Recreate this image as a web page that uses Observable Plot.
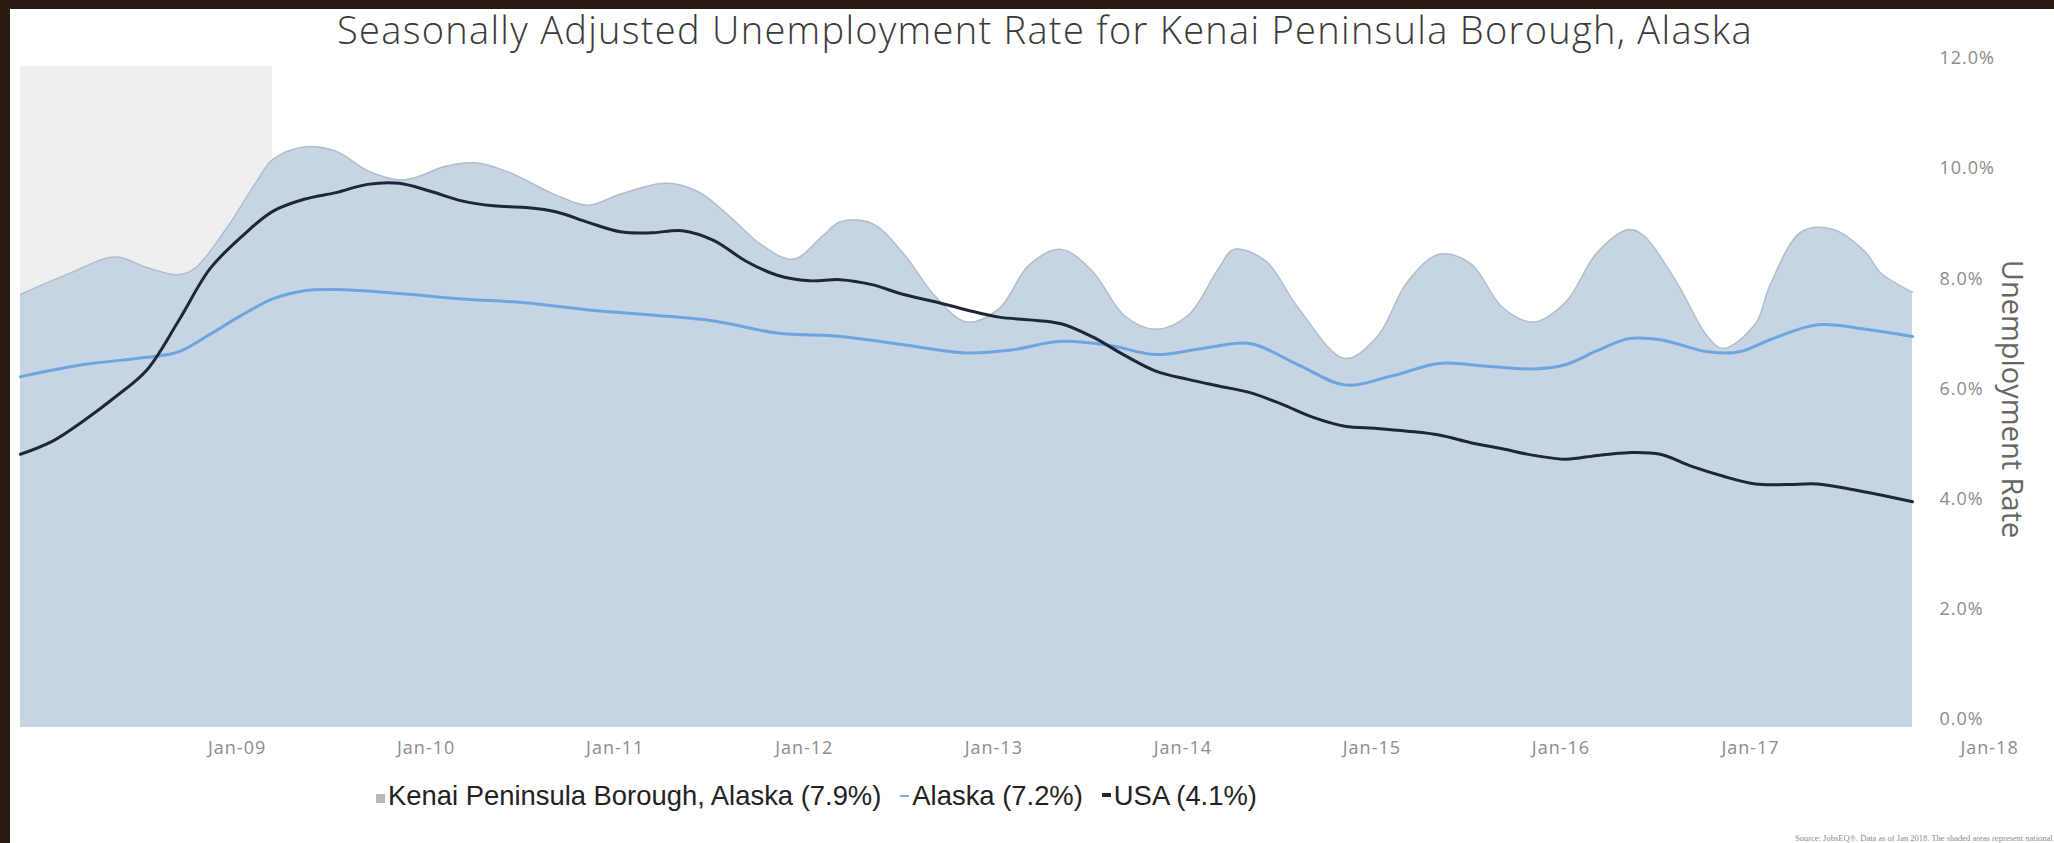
<!DOCTYPE html>
<html>
<head>
<meta charset="utf-8">
<script src="https://cdn.jsdelivr.net/npm/d3@7"></script>
<script src="https://cdn.jsdelivr.net/npm/@observablehq/plot@0.6"></script>
<style>
  html, body { margin: 0; padding: 0; width: 2054px; height: 843px; overflow: hidden; background: #2a1c15; }
  #panel { position: absolute; left: 10px; top: 9px; width: 2044px; height: 834px; background: #ffffff; }
  #title { position: absolute; left: 1045px; top: 3px; transform: translateX(-50%); white-space: nowrap;
           font-family: "Open Sans", sans-serif; font-weight: 300; font-size: 38px; letter-spacing: 1.3px; color: #3a3a3a; }
  #chart { position: absolute; left: 0; top: 50px; }
  #legend { position: absolute; left: 376px; top: 780px; white-space: nowrap;
            font-family: "Liberation Sans", Arial, sans-serif; font-size: 27.4px; color: #222; }
  #legend .sq { display: inline-block; width: 9px; height: 9px; background: #b9b9b9; margin-right: 3px; vertical-align: 2px; }
  #legend .dash { display: inline-block; width: 9px; vertical-align: 8px; margin: 0 3px 0 19px; }
  #source { position: absolute; left: 1795px; top: 833px; white-space: nowrap;
            font-family: "Liberation Serif", serif; font-size: 8.5px; color: #8a8a8a; }
  g[aria-label="y-axis tick label"] text, g[aria-label="x-axis tick label"] text { letter-spacing: 1px; }
</style>
</head>
<body>
<div id="panel"></div>
<div id="title">Seasonally Adjusted Unemployment Rate for Kenai Peninsula Borough, Alaska</div>
<div id="chart"></div>
<div id="legend"><span class="sq"></span>Kenai Peninsula Borough, Alaska (7.9%)<span class="dash" style="height:2px;background:#7fb1e3"></span>Alaska (7.2%)<span class="dash" style="height:4px;background:#1e2735"></span>USA (4.1%)</div>
<div id="source">Source: JobsEQ®. Data as of Jan 2018. The shaded areas represent national recessions.</div>
<script>
// ---- data (unemployment rate, %) ----
const kenaiDates = ["2007-12","2008-03","2008-06","2008-08","2008-10","2008-11","2009-01","2009-03","2009-04","2009-06","2009-08","2009-10","2009-12","2010-01","2010-03","2010-05","2010-07","2010-10","2010-12","2011-02","2011-05","2011-07","2011-09","2011-11","2012-01","2012-03","2012-04","2012-06","2012-08","2012-10","2012-12","2013-02","2013-04","2013-06","2013-08","2013-10","2013-12","2014-02","2014-04","2014-05","2014-07","2014-09","2014-12","2015-02","2015-04","2015-06","2015-08","2015-10","2015-12","2016-02","2016-04","2016-06","2016-07","2016-09","2016-11","2016-12","2017-02","2017-03","2017-05","2017-07","2017-09","2017-10","2017-12"];
const kenaiRates = [7.86,8.23,8.54,8.35,8.22,8.33,9.05,9.91,10.31,10.54,10.46,10.11,9.94,9.98,10.19,10.25,10.08,9.66,9.48,9.68,9.88,9.73,9.27,8.76,8.50,8.95,9.18,9.15,8.60,7.83,7.36,7.60,8.40,8.68,8.28,7.48,7.23,7.48,8.33,8.68,8.47,7.63,6.70,7.09,8.09,8.59,8.42,7.63,7.36,7.73,8.62,9.04,8.92,8.09,7.09,6.88,7.33,8.03,9.00,9.04,8.63,8.25,7.90];

const alaskaDates = ["2007-12","2008-04","2008-08","2008-10","2008-12","2009-02","2009-04","2009-06","2009-08","2009-12","2010-04","2010-08","2010-12","2011-04","2011-08","2011-12","2012-04","2012-08","2012-12","2013-03","2013-06","2013-09","2013-12","2014-03","2014-06","2014-09","2014-12","2015-03","2015-06","2015-09","2015-12","2016-02","2016-04","2016-06","2016-08","2016-11","2017-01","2017-03","2017-06","2017-09","2017-12"];
const alaskaRates = [6.37,6.59,6.72,6.82,7.14,7.49,7.78,7.93,7.95,7.88,7.78,7.71,7.58,7.49,7.38,7.16,7.10,6.95,6.80,6.86,7.01,6.94,6.77,6.88,6.97,6.59,6.22,6.38,6.61,6.56,6.51,6.59,6.84,7.06,7.04,6.82,6.82,7.04,7.31,7.23,7.10];

const usaDates = ["2007-12","2008-02","2008-04","2008-06","2008-08","2008-10","2008-12","2009-02","2009-04","2009-06","2009-08","2009-10","2009-12","2010-02","2010-04","2010-06","2010-08","2010-10","2010-12","2011-02","2011-04","2011-06","2011-08","2011-10","2011-12","2012-02","2012-04","2012-06","2012-08","2012-10","2012-12","2013-02","2013-04","2013-06","2013-08","2013-10","2013-12","2014-02","2014-04","2014-06","2014-08","2014-10","2014-12","2015-02","2015-04","2015-06","2015-08","2015-10","2015-12","2016-02","2016-04","2016-06","2016-08","2016-10","2016-12","2017-02","2017-04","2017-06","2017-08","2017-10","2017-12"];
const usaRates = [4.96,5.20,5.57,6.00,6.49,7.38,8.33,8.92,9.37,9.59,9.71,9.86,9.88,9.73,9.56,9.47,9.44,9.36,9.17,9.00,8.98,9.02,8.84,8.47,8.21,8.11,8.13,8.04,7.86,7.73,7.58,7.45,7.40,7.33,7.09,6.76,6.47,6.32,6.20,6.08,5.87,5.63,5.47,5.43,5.38,5.31,5.17,5.06,4.94,4.87,4.94,4.99,4.96,4.74,4.56,4.42,4.41,4.42,4.33,4.22,4.10];

const recessionStart = "2007-12";
const recessionEnd = "2009-04";
const xDomain = ["2007-12", "2017-12"];
const xTickDates = ["2009-01","2010-01","2011-01","2012-01","2013-01","2014-01","2015-01","2016-01","2017-01"];
const lastTickDate = "2018-01";
const yTicks = [0, 2, 4, 6, 8, 10, 12];
const yLabel = "Unemployment Rate";

// ---- build tables ----
const parse = d3.utcParse("%Y-%m");
const toRows = (dates, rates) => dates.map((d, i) => ({date: parse(d), rate: rates[i]}));
const kenai = toRows(kenaiDates, kenaiRates);
const alaska = toRows(alaskaDates, alaskaRates);
const usa = toRows(usaDates, usaRates);
const recession = [{start: parse(recessionStart), end: parse(recessionEnd)}];
const fmtX = d3.utcFormat("%b-%y");
const curve = "catmull-rom";

const chart = Plot.plot({
  width: 2054,
  height: 720,
  marginTop: 16,
  marginBottom: 43,
  marginLeft: 20,
  marginRight: 142,
  style: {background: "transparent", fontFamily: "'Open Sans', sans-serif", overflow: "visible"},
  x: {type: "utc", domain: xDomain.map(parse)},
  y: {domain: [0, 12]},
  marks: [
    Plot.rect(recession, {x1: "start", x2: "end", fill: "#efefef"}),
    Plot.areaY(kenai, {x: "date", y: "rate", fill: "#c7d4e3", curve}),
    Plot.lineY(kenai, {x: "date", y: "rate", stroke: "#b3becb", strokeWidth: 1.5, curve}),
    Plot.lineY(alaska, {x: "date", y: "rate", stroke: "#6da6df", strokeWidth: 3, curve}),
    Plot.lineY(usa, {x: "date", y: "rate", stroke: "#1e2735", strokeWidth: 3, curve}),
    Plot.axisY(yTicks, {anchor: "right", tickSize: 0, tickPadding: 27, dy: -8, fontSize: 18, fill: "#8c8c8c",
      tickFormat: d => d.toFixed(1) + "%", label: null}),
    Plot.axisX(xTickDates.map(parse), {anchor: "bottom", tickSize: 0, tickPadding: 14, dx: 11, fontSize: 18,
      fill: "#8c8c8c", tickFormat: fmtX, label: null}),
    Plot.axisX([parse(lastTickDate)], {anchor: "bottom", tickSize: 0, tickPadding: 14, dx: 61, fontSize: 18,
      fill: "#8c8c8c", tickFormat: fmtX, label: null}),
    Plot.text([yLabel], {frameAnchor: "right", text: d => d, rotate: 90, dx: 99, dy: 2, fontSize: 29,
      fill: "#666", textAnchor: "middle"})
  ]
});
document.getElementById("chart").appendChild(chart);
</script>
</body>
</html>
